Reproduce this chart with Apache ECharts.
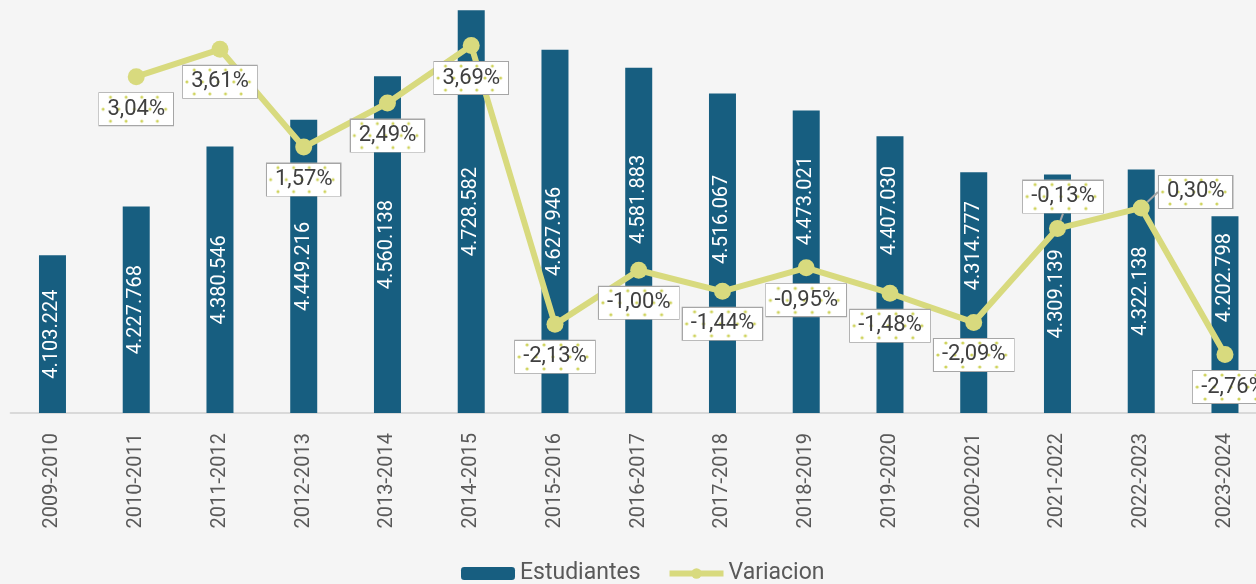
<!DOCTYPE html>
<html>
<head>
<meta charset="utf-8">
<style>
  html, body { margin: 0; padding: 0; background: #f5f5f5; }
  #chart { width: 1256px; height: 584px; }
</style>
<script src="https://cdn.jsdelivr.net/npm/echarts@6/dist/echarts.min.js"></script>
</head>
<body>
<div id="chart"></div>
<script>
var cursos = ['2009-2010', '2010-2011', '2011-2012', '2012-2013', '2013-2014', '2014-2015',
  '2015-2016', '2016-2017', '2017-2018', '2018-2019', '2019-2020', '2020-2021',
  '2021-2022', '2022-2023', '2023-2024'];
var estudiantes = [4103224, 4227768, 4380546, 4449216, 4560138, 4728582, 4627946,
  4581883, 4516067, 4473021, 4407030, 4314777, 4309139, 4322138, 4202798];
var variacion = [null, 3.04, 3.61, 1.57, 2.49, 3.69, -2.13, -1.00, -1.44, -0.95,
  -1.48, -2.09, -0.13, 0.30, -2.76];

// cuanto suben (px) las etiquetas de barra para no chocar con la linea
var subidaEtiqueta = [0, 0, 0, 0, 0, 0, 0, 41, 34, 61, 64, 47, 0, 0, 37];

var FONT = 'Roboto, "Noto Sans", sans-serif';

// fondo punteado de las etiquetas de variacion
function fondoPunteado(w, h) {
  var c = document.createElement('canvas');
  c.width = w; c.height = h;
  var ctx = c.getContext('2d');
  ctx.fillStyle = '#ffffff';
  ctx.fillRect(0, 0, w, h);
  ctx.fillStyle = '#cfd35c';
  var filas = [4, 16, 28];
  for (var f = 0; f < filas.length; f++) {
    var off = f === 1 ? 0 : 8;
    for (var x = off + 4; x < w; x += 17) {
      ctx.beginPath();
      ctx.arc(x, filas[f], 1.6, 0, Math.PI * 2);
      ctx.fill();
    }
  }
  return c;
}
var bgCanvas = fondoPunteado(80, 32);

function miles(v) {
  return String(v).replace(/\B(?=(\d{3})+(?!\d))/g, '.');
}

var lineaData = variacion.map(function (v, i) {
  var item = { value: v };
  if (i === 12 || i === 13) item.labelLine = { show: true };
  return item;
});

var chart = echarts.init(document.getElementById('chart'));
chart.setOption({
  backgroundColor: '#f5f5f5',
  animation: false,
  textStyle: { fontFamily: FONT },
  grid: { left: 10.6, top: 0, width: 1256.25, height: 413, containLabel: false, outerBoundsMode: 'none' },
  legend: {
    bottom: -6,
    left: 456,
    itemWidth: 54,
    itemHeight: 13,
    itemGap: 26,
    textStyle: { fontSize: 23, color: '#595959', fontFamily: FONT },
    lineStyle: { width: 6 },
    data: ['Estudiantes', 'Variacion']
  },
  xAxis: {
    type: 'category',
    data: cursos,
    axisLine: { onZero: false, lineStyle: { color: '#d9d9d9', width: 2 } },
    axisTick: { show: false },
    axisLabel: { rotate: 90, fontSize: 20, color: '#595959', margin: 20, fontFamily: FONT }
  },
  yAxis: [
    { type: 'value', min: 3700000, max: 4755000, show: false, splitLine: { show: false } },
    { type: 'value', min: -3.98, max: 4.64, show: false, splitLine: { show: false } }
  ],
  series: [
    {
      name: 'Estudiantes',
      type: 'bar',
      data: estudiantes,
      barWidth: 27,
      itemStyle: { color: '#175e80' },
      label: {
        show: true,
        position: 'inside',
        rotate: 90,
        color: '#ffffff',
        fontSize: 20,
        fontFamily: FONT,
        formatter: function (p) { return miles(p.value); }
      },
      labelLayout: function (p) {
        // la etiqueta va girada: dx la desplaza a lo largo de la barra
        return { dx: subidaEtiqueta[p.dataIndex] };
      }
    },
    {
      name: 'Variacion',
      type: 'line',
      yAxisIndex: 1,
      data: lineaData,
      z: 5,
      symbol: 'circle',
      symbolSize: 17,
      lineStyle: { color: '#d8da7e', width: 6 },
      itemStyle: { color: '#d8da7e' },
      label: {
        show: true,
        position: 'bottom',
        distance: 8,
        color: '#404040',
        fontSize: 22,
        fontFamily: FONT,
        lineHeight: 28,
        padding: [2, 8],
        borderColor: '#a6a6a6',
        borderWidth: 2,
        backgroundColor: { image: bgCanvas },
        formatter: function (p) {
          return p.value.toFixed(2).replace('.', ',') + '%';
        }
      },
      labelLine: { show: false, lineStyle: { color: '#a6a6a6', width: 2 } },
      labelLayout: function (p) {
        if (p.dataIndex === 12) return { dx: 5.5, dy: -64.5 };
        if (p.dataIndex === 13) return { dx: 54.5, dy: -48.5 };
        if (p.dataIndex === 14) return { dx: 8 };
        return {};
      }
    }
  ]
});
</script>
</body>
</html>
